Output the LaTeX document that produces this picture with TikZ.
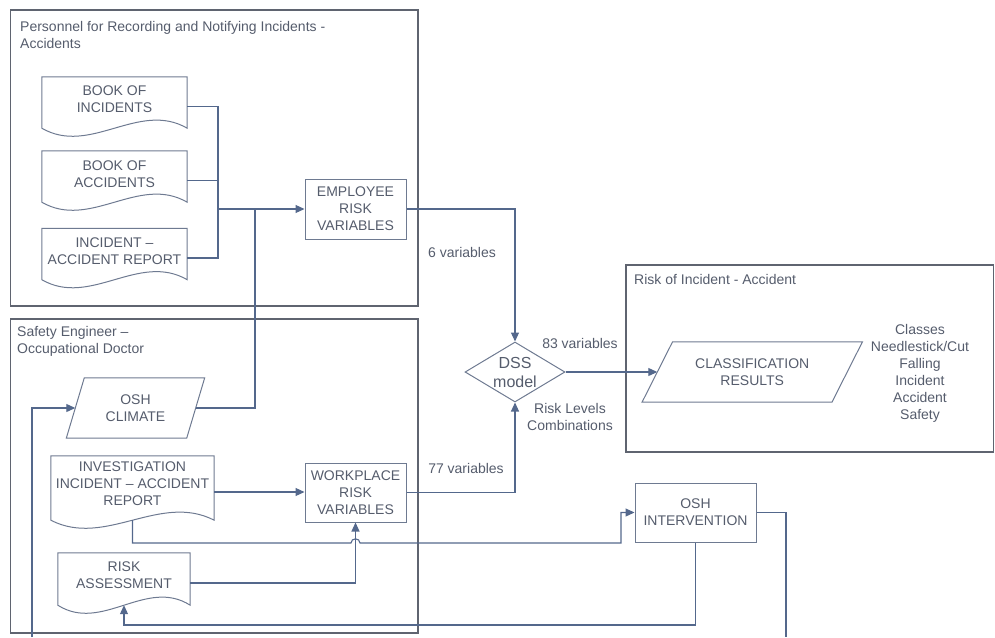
\documentclass[tikz,border=0pt]{standalone}
\usepackage{fontspec}
\setmainfont{Liberation Sans}
\usetikzlibrary{calc,arrows.meta,shapes.geometric}
\definecolor{linec}{RGB}{84,104,140}
\definecolor{shapec}{RGB}{110,122,145}
\definecolor{lanec}{RGB}{95,100,112}
\definecolor{textc}{RGB}{85,92,108}
\tikzset{
 txt/.style={text=textc, font=\fontsize{14}{17}\selectfont, align=center, inner sep=0pt},
 lane/.style={draw=lanec, line width=1.4pt, inner sep=0pt},
 procbox/.style={txt, draw=shapec, line width=1pt},
 ghost/.style={inner sep=0pt, draw=none},
 shapeline/.style={draw=shapec, line width=1pt},
 conn/.style={draw=linec, line width=1.1pt},
 arr/.style={conn, -{Triangle[length=9pt,width=8pt]}},
}
\newcommand\docoutline[1]{\draw[shapeline] ($(#1.south west)+(0,-8)$) -- (#1.north west) -- (#1.north east) -- ($(#1.south east)+(0,-8)$) .. controls ($(#1.south east)!0.333!(#1.south west)+(0,-36)$) and ($(#1.south east)!0.667!(#1.south west)+(0,20)$) .. ($(#1.south west)+(0,-8)$) -- cycle;}
\newcommand\paraoutline[2]{\draw[shapeline] ([xshift=#2]#1.north west) -- ([xshift=#2]#1.north east) -- ([xshift=-#2]#1.south east) -- ([xshift=-#2]#1.south west) -- cycle;}
\begin{document}
\begin{tikzpicture}[x=1pt,y=-1pt]
\useasboundingbox (0,0) rectangle (995,637);
% lanes
\node[lane, minimum width=407.5pt, minimum height=296pt] (lane1) at (214.25,158) {};
\node[lane, minimum width=407.5pt, minimum height=314pt] (lane2) at (214.25,476) {};
\node[lane, minimum width=367.5pt, minimum height=187pt] (lane3) at (809.75,358.5) {};
\node[txt, align=left, anchor=west] (t1) at (20,34.5) {Personnel for Recording and Notifying Incidents -\\Accidents};
\node[txt, align=left, anchor=west] (t2) at (17,341) {Safety Engineer –\\Occupational Doctor};
\node[txt, anchor=west] (t3) at (634,279.5) {Risk of Incident - Accident};
% documents
\node[ghost, minimum width=145pt, minimum height=59pt] (d1) at (114.5,106.5) {};
\docoutline{d1}
\node[txt] (d1t) at (114.5,99.5) {BOOK OF\\INCIDENTS};
\node[ghost, minimum width=145pt, minimum height=59pt] (d2) at (114.5,180.5) {};
\docoutline{d2}
\node[txt] (d2t) at (114.5,174.5) {BOOK OF\\ACCIDENTS};
\node[ghost, minimum width=145pt, minimum height=59pt] (d3) at (114.5,258) {};
\docoutline{d3}
\node[txt] (d3t) at (114.5,251.5) {INCIDENT –\\ACCIDENT REPORT};
\node[ghost, minimum width=163pt, minimum height=72pt] (inv) at (132.5,492) {};
\docoutline{inv}
\node[txt] (invt) at (132.5,483.5) {INVESTIGATION\\INCIDENT – ACCIDENT\\REPORT};
\node[ghost, minimum width=132pt, minimum height=60pt] (ra) at (124,583) {};
\docoutline{ra}
\node[txt] (rat) at (124,575.5) {RISK\\ASSESSMENT};
% parallelograms
\node[txt, minimum width=120pt, minimum height=60pt] (oshc) at (135.5,408) {OSH\\CLIMATE};
\paraoutline{oshc}{9pt}
\node[txt, minimum width=189.5pt, minimum height=60pt] (cls) at (752.25,372) {CLASSIFICATION\\RESULTS};
\paraoutline{cls}{15.25pt}
% process boxes
\node[procbox, minimum width=101pt, minimum height=60pt] (emp) at (355.5,209) {EMPLOYEE\\RISK\\VARIABLES};
\node[procbox, minimum width=101pt, minimum height=59pt] (wp) at (355.5,492.5) {WORKPLACE\\RISK\\VARIABLES};
\node[procbox, minimum width=121pt, minimum height=59pt] (osh) at (695.5,512.5) {OSH\\INTERVENTION};
% decision
\node[diamond, draw=shapec, line width=1pt, minimum width=100pt, minimum height=60pt, inner sep=0pt] (dss) at (515,372) {};
\node[txt, font=\fontsize{16}{19}\selectfont] (dsst) at (515,372.5) {DSS\\model};
% labels
\node[txt] (l6) at (462,252.5) {6 variables};
\node[txt] (l83) at (580,343.5) {83 variables};
\node[txt] (lrl) at (570,416.5) {Risk Levels\\Combinations};
\node[txt] (l77) at (466,468.5) {77 variables};
\node[txt] (lcls) at (920,373.5) {Classes\\Needlestick/Cut\\Falling\\Incident\\Accident\\Safety};
% connectors
\coordinate (bus) at (218,209);
\coordinate (j2) at (255,209);
\draw[conn] (d1.east) -| (bus);
\draw[conn] (d2.east) -| (bus);
\draw[conn] (d3.east) -| (bus);
\draw[arr] (bus) -- (emp.west);
\draw[conn] (oshc.east) -| (j2);
\draw[arr] (emp.east) -| (dss.north);
\draw[arr] (wp.east) -| (dss.south);
\draw[arr] (inv.east) -- (inv.east -| wp.west);
\draw[arr] (dss.east) -- (cls.west);
\coordinate (invb) at ($(inv.south)+(0,-8)$);
\coordinate (lowy) at (0,543);
\coordinate (kx) at (621,543);
\draw[arr] (invb) -- (invb |- lowy) -- ($(wp.south |- lowy)+(-4.5,0)$) .. controls +(0,-5.5) and +(0,-5.5) .. ($(wp.south |- lowy)+(4.5,0)$) -- (kx) |- (osh.west);
\draw[arr] (ra.east) -| (wp.south);
\coordinate (rab) at ($(ra.south)+(0,-8)$);
\coordinate (boty) at (0,625);
\draw[arr] (osh.south) -- (osh.south |- boty) -| (rab);
\coordinate (e1) at (786,637);
\draw[conn] (osh.east) -| (e1);
\coordinate (e2) at (32,637);
\draw[arr] (e2) |- (oshc.west);
\end{tikzpicture}
\end{document}
